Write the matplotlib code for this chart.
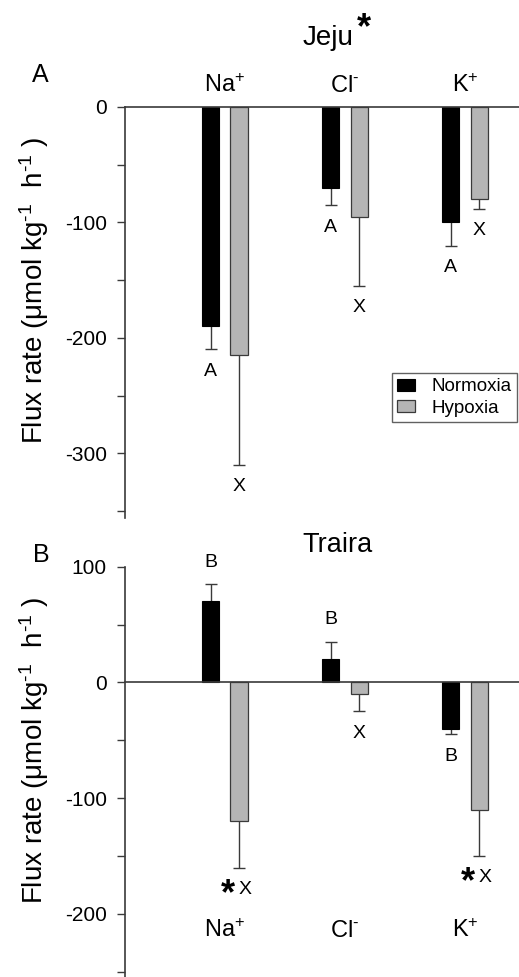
import matplotlib
matplotlib.use("Agg")
import matplotlib.pyplot as plt
import numpy as np

plt.rcParams['font.family'] = ['Liberation Sans', 'DejaVu Sans']
plt.rcParams['mathtext.fontset'] = 'custom'
plt.rcParams['mathtext.rm'] = 'Liberation Sans'
plt.rcParams['mathtext.it'] = 'Liberation Sans:italic'
plt.rcParams['mathtext.bf'] = 'Liberation Sans:bold'
plt.rcParams['axes.unicode_minus'] = False

# ---- data ----
ions = [r'Na$^{+}$', r'Cl$^{\text{-}}$', r'K$^{+}$']
conditions = ['Normoxia', 'Hypoxia']

jeju_normoxia = [-190, -70, -100]
jeju_normoxia_err = [20, 15, 20]
jeju_hypoxia = [-215, -95, -80]
jeju_hypoxia_err = [95, 60, 8]

traira_normoxia = [70, 20, -40]
traira_normoxia_err = [15, 15, 5]
traira_hypoxia = [-120, -10, -110]
traira_hypoxia_err = [40, 15, 40]

jeju_letters_n = ['A', 'A', 'A']
jeju_letters_h = ['X', 'X', 'X']
traira_letters_n = ['B', 'B', 'B']
traira_letters_h = ['X', 'X', 'X']
traira_star_h = [True, False, True]

# ---- style ----
W, H = 519, 977
DARK = '#3a3a3a'
GREY = '#b5b5b5'
bw = 0.142
off = 0.117
gap = 19
cap = 0.05

fig = plt.figure(figsize=(W / 100, H / 100), dpi=100)

def fx(px):
    return px / W

def fy(py):
    return 1 - py / H

axA = fig.add_axes([fx(125), fy(518), 394 / W, 411 / H])
axB = fig.add_axes([fx(125), 0, 394 / W, (977 - 566.7) / H])

x = np.arange(len(ions))


def draw(ax, nvals, nerr, hvals, herr, ln, lh, stars, ylim, major, minor):
    nvals = np.array(nvals, float)
    hvals = np.array(hvals, float)
    nerr = np.array(nerr, float)
    herr = np.array(herr, float)
    bn = ax.bar(x - off, nvals, bw, color='black', edgecolor='black', linewidth=0.8,
                label=conditions[0], zorder=3)
    bh = ax.bar(x + off, hvals, bw, color=GREY, edgecolor=DARK, linewidth=0.9,
                label=conditions[1], zorder=3)
    for xs, vals, errs in [(x - off, nvals, nerr), (x + off, hvals, herr)]:
        tips = np.where(vals < 0, vals - errs, vals + errs)
        ax.vlines(xs, vals, tips, color=DARK, lw=1.0, zorder=2)
        ax.hlines(tips, xs - cap, xs + cap, color=DARK, lw=1.0, zorder=2)
    ax.axhline(0, color=DARK, lw=1.2, zorder=4, clip_on=False)
    for i in range(len(x)):
        for xs, v, e, lab, isstar in [(x[i] - off, nvals[i], nerr[i], ln[i], False),
                                      (x[i] + off, hvals[i], herr[i], lh[i], stars[i])]:
            y = v - e - gap if v < 0 else v + e + gap
            if isstar:
                ax.text(xs + 0.054, y, lab, ha='center', va='center', fontsize=14,
                        clip_on=False)
                ax.annotate('*', xy=(xs - 0.09, y), xytext=(0, -10.5),
                            textcoords='offset points', ha='center', va='baseline',
                            fontsize=26, fontweight='bold', annotation_clip=False)
            else:
                ax.text(xs, y, lab, ha='center', va='center', fontsize=14, clip_on=False)
    ax.set_xlim(-0.833, 2.45)
    ax.set_ylim(*ylim)
    ax.set_yticks(major)
    ax.set_yticks(minor, minor=True)
    ax.set_yticklabels([str(int(t)) for t in major])
    ax.tick_params(axis='y', which='both', direction='out', length=6, width=1.0,
                   color=DARK, pad=7, labelsize=15)
    ax.set_xticks([])
    for s in ['top', 'right', 'bottom']:
        ax.spines[s].set_visible(False)
    ax.spines['left'].set_color(DARK)
    ax.spines['left'].set_linewidth(1.2)
    ax.patch.set_visible(False)
    return bn, bh


bn, bh = draw(axA, jeju_normoxia, jeju_normoxia_err, jeju_hypoxia, jeju_hypoxia_err,
              jeju_letters_n, jeju_letters_h, [False] * 3, (-356, 0),
              [0, -100, -200, -300], [-50, -150, -250, -350])
draw(axB, traira_normoxia, traira_normoxia_err, traira_hypoxia, traira_hypoxia_err,
     traira_letters_n, traira_letters_h, traira_star_h, (-254.6, 100),
     [100, 0, -100, -200], [50, -50, -150, -250])

# ion labels
for i, lab in enumerate(ions):
    axA.text(x[i], 13, lab, ha='center', va='baseline', fontsize=17, clip_on=False)
    axB.text(x[i], -220, lab, ha='center', va='baseline', fontsize=17, clip_on=False)

# y labels
ylab = r'Flux rate (μmol kg$^{\text{-}1}$  h$^{\text{-}1}$ )'
fig.text(fx(34.5), fy(290), ylab, rotation=90, ha='center', va='center', fontsize=20)
fig.text(fx(34.5), fy(750), ylab, rotation=90, ha='center', va='center', fontsize=20)

# panel letters and titles
fig.text(fx(40), fy(75), 'A', ha='center', va='center', fontsize=18)
fig.text(fx(41), fy(555), 'B', ha='center', va='center', fontsize=18)
fig.text(fx(328), fy(45), 'Jeju', ha='center', va='baseline', fontsize=20)
fig.text(fx(364), fy(38), '*', ha='center', va='baseline', fontsize=26, fontweight='bold')
fig.text(fx(337.5), fy(552), 'Traira', ha='center', va='baseline', fontsize=19.5)

# legend
leg = fig.legend([bn, bh], conditions, loc='upper left',
                 bbox_to_anchor=(fx(391.7), fy(372.7)), bbox_transform=fig.transFigure,
                 borderaxespad=0, fontsize=13.5, frameon=True, fancybox=False,
                 handlelength=0.96, handleheight=0.6, handletextpad=0.85,
                 labelspacing=0.23, borderpad=0.3)
leg.get_frame().set_edgecolor(DARK)
leg.get_frame().set_linewidth(1.0)

fig.savefig('out.png', dpi=100)
